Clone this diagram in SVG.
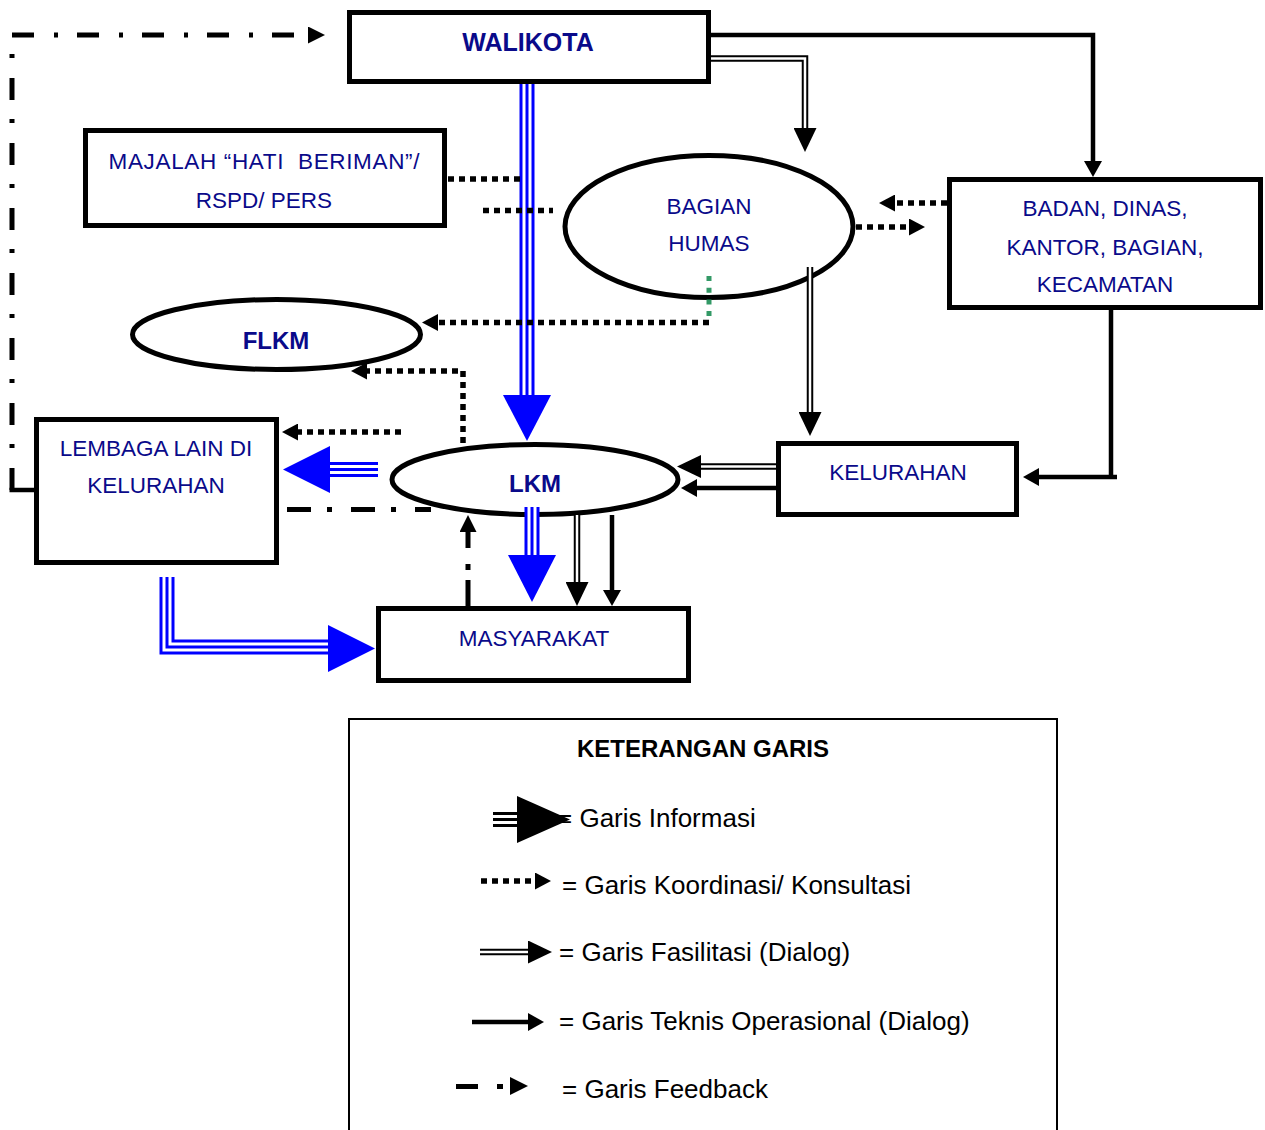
<svg xmlns="http://www.w3.org/2000/svg" width="1265" height="1130" viewBox="0 0 1265 1130">
  <style>
    .box{fill:#fff;stroke:#000;stroke-width:5}
    .lbl{font-family:"Liberation Sans",Arial,sans-serif;fill:#0a0a8a;text-anchor:middle;font-size:22.5px}
    .b{font-weight:bold;font-size:24px}
    .leg{font-family:"Liberation Sans",Arial,sans-serif;fill:#000;font-size:26px}
    .title{font-size:24px;font-weight:bold;text-anchor:middle}
    .tek{fill:none;stroke:#000;stroke-width:4.5}
    .dot{fill:none;stroke:#000;stroke-width:5.5;stroke-dasharray:6 5}
    .green{fill:none;stroke:#339966;stroke-width:5;stroke-dasharray:5 6.7}
    .dbl{fill:none;stroke:#000;stroke-width:6.5}
    .dbl-gap{fill:none;stroke:#fff;stroke-width:2.5}
    .info{fill:none;stroke:#0000ff;stroke-width:15}
    .info-gap{fill:none;stroke:#fff;stroke-width:9}
    .info-mid{fill:none;stroke:#0000ff;stroke-width:3}
    .info-head{fill:#0000ff}
    .fb{fill:none;stroke:#000;stroke-width:5}
  </style>
  <defs>
    <marker id="mTek" markerUnits="userSpaceOnUse" markerWidth="16" markerHeight="18" viewBox="0 0 16 18" refX="0" refY="9" orient="auto"><path d="M0,0L16,9L0,18z"/></marker>
    <marker id="mDot" markerUnits="userSpaceOnUse" markerWidth="16" markerHeight="17" viewBox="0 0 16 17" refX="0" refY="8.5" orient="auto"><path d="M0,0L16,8.5L0,17z"/></marker>
    <marker id="mDbl" markerUnits="userSpaceOnUse" markerWidth="24" markerHeight="23" viewBox="0 0 24 23" refX="0" refY="11.5" orient="auto"><path d="M0,0L24,11.5L0,23z"/></marker>
    <marker id="mFb" markerUnits="userSpaceOnUse" markerWidth="17" markerHeight="17" viewBox="0 0 17 17" refX="0" refY="8.5" orient="auto"><path d="M0,0L17,8.5L0,17z"/></marker>
  </defs>

  <!-- nodes -->
  <g id="walikota">
    <rect class="box" x="349.5" y="12.5" width="359" height="69"/>
    <text class="lbl b" x="528" y="51" style="font-size:25px">WALIKOTA</text>
  </g>
  <g id="majalah">
    <rect class="box" x="85.5" y="130.5" width="359" height="95"/>
    <text class="lbl" x="264" y="169" textLength="311" lengthAdjust="spacing" xml:space="preserve">MAJALAH “HATI  BERIMAN”/</text>
    <text class="lbl" x="264" y="208">RSPD/ PERS</text>
  </g>
  <g id="bagian-humas">
    <ellipse class="box" cx="709" cy="226.5" rx="144" ry="71"/>
    <text class="lbl" x="709" y="214">BAGIAN</text>
    <text class="lbl" x="709" y="251">HUMAS</text>
  </g>
  <g id="badan-dinas">
    <rect class="box" x="949.5" y="179.5" width="311" height="128"/>
    <text class="lbl" x="1105" y="216">BADAN, DINAS,</text>
    <text class="lbl" x="1105" y="255">KANTOR, BAGIAN,</text>
    <text class="lbl" x="1105" y="292">KECAMATAN</text>
  </g>
  <g id="flkm">
    <ellipse class="box" cx="276.5" cy="334.5" rx="144" ry="35"/>
    <text class="lbl b" x="276" y="348.5">FLKM</text>
  </g>
  <g id="lembaga-lain">
    <rect class="box" x="36.5" y="419.5" width="240" height="143"/>
    <text class="lbl" x="156" y="456">LEMBAGA LAIN DI</text>
    <text class="lbl" x="156" y="493">KELURAHAN</text>
  </g>
  <g id="lkm">
    <ellipse class="box" cx="535" cy="479.5" rx="143" ry="35"/>
    <text class="lbl b" x="535" y="492">LKM</text>
  </g>
  <g id="kelurahan">
    <rect class="box" x="778.5" y="443.5" width="238" height="71"/>
    <text class="lbl" x="898" y="480">KELURAHAN</text>
  </g>
  <g id="masyarakat">
    <rect class="box" x="378.5" y="608.5" width="310" height="72"/>
    <text class="lbl" x="534" y="646">MASYARAKAT</text>
  </g>

  <!-- connectors -->
  <g id="connectors">
    <!-- information lines (blue, triple) -->
    <path class="info" d="M527,84 V396"/><path class="info-gap" d="M527,84 V396"/><path class="info-mid" d="M527,84 V396"/>
    <polygon class="info-head" points="503,395 551,395 527,441"/>
    <path class="info" d="M378,469.5 H329"/><path class="info-gap" d="M378,469.5 H329"/><path class="info-mid" d="M378,469.5 H329"/>
    <polygon class="info-head" points="330,446 330,493 283,469.5"/>
    <path class="info" d="M532,507 V556"/><path class="info-gap" d="M532,507 V556"/><path class="info-mid" d="M532,507 V556"/>
    <polygon class="info-head" points="508,555 556,555 532,602"/>
    <path class="info" d="M167,577 V647 H329"/><path class="info-gap" d="M167,577 V647 H329"/><path class="info-mid" d="M167,577 V647 H329"/>
    <polygon class="info-head" points="328,625 328,672 375,648.5"/>

    <!-- technical / operational lines -->
    <path class="tek" d="M711,35 H1093 V161" marker-end="url(#mTek)"/>
    <path class="tek" d="M1111,310 V477"/>
    <path class="tek" d="M1117,477 H1039" marker-end="url(#mTek)"/>
    <path class="tek" d="M612,515 V590" marker-end="url(#mTek)"/>
    <path class="tek" d="M777,488 H697" marker-end="url(#mTek)"/>

    <!-- facilitation lines (double) -->
    <path class="dbl" d="M711,58.5 H805 V128" marker-end="url(#mDbl)"/><path class="dbl-gap" d="M711,58.5 H805 V128"/>
    <path class="dbl" d="M810,267 V412" marker-end="url(#mDbl)"/><path class="dbl-gap" d="M810,267 V412"/>
    <path class="dbl" d="M577,515 V582" marker-end="url(#mDbl)"/><path class="dbl-gap" d="M577,515 V582"/>
    <path class="dbl" d="M776,466.5 H701" marker-end="url(#mDbl)"/><path class="dbl-gap" d="M776,466.5 H701"/>

    <!-- coordination / consultation lines (dotted) -->
    <path class="dot" d="M448,179 H522"/>
    <path class="dot" d="M483,210.5 H553"/>
    <path class="dot" d="M947,203 H895" marker-end="url(#mDot)"/>
    <path class="dot" d="M856,227 H909" marker-end="url(#mDot)"/>
    <path class="green" d="M709,276 V318"/>
    <path class="dot" d="M709,322.5 H438" marker-end="url(#mDot)"/>
    <path class="dot" d="M463,443 V371 H367" marker-end="url(#mDot)"/>
    <path class="dot" d="M401,432 H298" marker-end="url(#mDot)"/>

    <!-- feedback lines (dash-dot) -->
    <path class="tek" d="M34,490 H9.5" stroke-width="5"/>
    <path class="fb" d="M12,490 V35 H308" stroke-dasharray="22 20 4 19" marker-end="url(#mFb)"/>
    <path class="fb" d="M287,509.5 H431" stroke-dasharray="24 16 5 19"/>
    <path class="fb" d="M468,606 V532" stroke-dasharray="26 10 6 16" marker-end="url(#mFb)"/>
  </g>

  <!-- line legend -->
  <g id="legend">
    <rect x="349" y="719" width="708" height="420" fill="none" stroke="#000" stroke-width="2"/>
    <text class="leg title" x="703" y="757">KETERANGAN GARIS</text>

    <path d="M493,819.5 H520" stroke="#000" stroke-width="15"/>
    <path d="M493,819.5 H520" stroke="#fff" stroke-width="9"/>
    <path d="M493,819.5 H520" stroke="#000" stroke-width="3"/>
    <polygon points="517,796 517,843 570,819.5"/>
    <text class="leg" x="557" y="827">= Garis Informasi</text>

    <path class="dot" d="M481,881 H535" marker-end="url(#mDot)"/>
    <text class="leg" x="562" y="894">= Garis Koordinasi/ Konsultasi</text>

    <path class="dbl" d="M480,952 H528" marker-end="url(#mDbl)"/><path class="dbl-gap" d="M480,952 H528"/>
    <text class="leg" x="559" y="961">= Garis Fasilitasi (Dialog)</text>

    <path class="tek" d="M472,1022 H528" marker-end="url(#mTek)"/>
    <text class="leg" x="559" y="1030">= Garis Teknis Operasional (Dialog)</text>

    <rect x="456" y="1084" width="22" height="5"/>
    <rect x="497" y="1084" width="6" height="5"/>
    <polygon points="510,1077 510,1095 528,1086"/>
    <text class="leg" x="562" y="1098">= Garis Feedback</text>
  </g>
</svg>
